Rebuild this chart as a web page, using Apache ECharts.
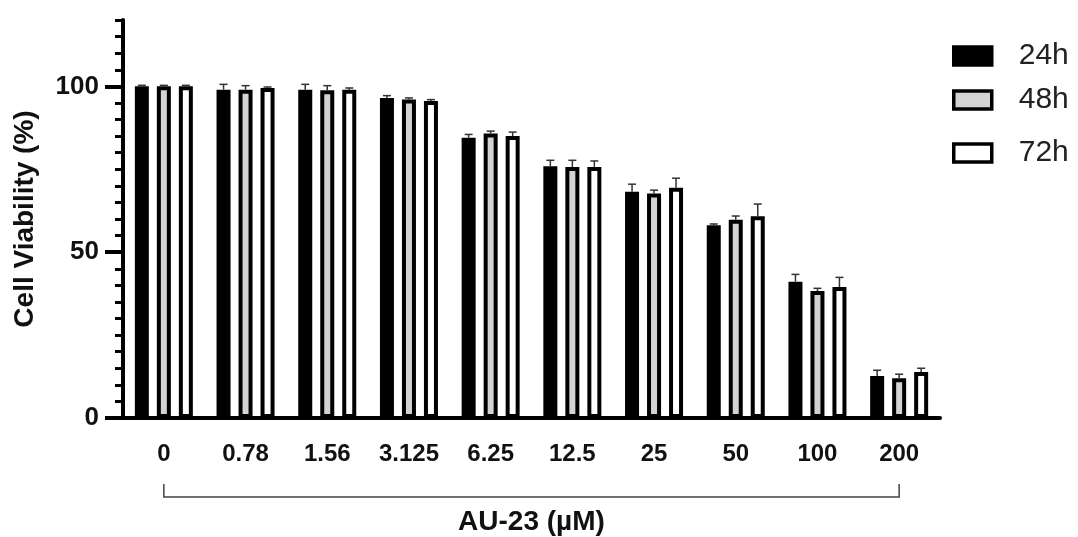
<!DOCTYPE html>
<html>
<head>
<meta charset="utf-8">
<script src="https://cdn.jsdelivr.net/npm/echarts@6/dist/echarts.min.js"></script>
<style>html,body{margin:0;padding:0;background:#fff}#c{width:1078px;height:537px}</style>
</head>
<body>
<div id="c"></div>
<script>
// ---- data ----
const categories = ['0', '0.78', '1.56', '3.125', '6.25', '12.5', '25', '50', '100', '200'];
const seriesNames = ['24h', '48h', '72h'];
const values24h = [100, 99.0, 99.0, 96.5, 84.5, 75.9, 68.2, 58.1, 41.1, 12.7];
const values48h = [100, 99.0, 98.8, 96.0, 85.8, 75.7, 67.7, 59.8, 38.3, 12.0];
const values72h = [100, 99.5, 99.0, 95.6, 85.0, 75.7, 69.4, 60.8, 39.5, 13.9];
const err24h = [0.3, 1.6, 1.6, 0.7, 1.0, 1.8, 2.3, 0.4, 2.2, 1.7];
const err48h = [0.3, 1.2, 1.4, 0.5, 0.7, 2.0, 1.0, 1.1, 0.8, 1.2];
const err72h = [0.3, 0.3, 0.5, 0.4, 1.2, 1.8, 2.9, 3.7, 2.9, 1.1];
const yMajorTicks = [0, 50, 100];
const yMin = 0, yMax = 120, yMinorInterval = 5;
const xTitle = 'AU-23 (µM)';
const yTitle = 'Cell Viability (%)';

// ---- style ----
const FONT = 'Liberation Sans, Arial, sans-serif';
const fills = ['#000000', '#d3d3d3', '#ffffff'];
const BAR_W = 14, BAR_BORDER = 4, BAR_GAP_PX = 8;
const PITCH = BAR_W + BAR_GAP_PX;
const offsets = [-PITCH, 0, PITCH];
const allValues = [values24h, values48h, values72h];
const allErr = [err24h, err48h, err72h];

const chart = echarts.init(document.getElementById('c'), null, {renderer: 'canvas'});

const barSeries = seriesNames.map((n, i) => ({
  name: n,
  type: 'bar',
  xAxisIndex: 0, yAxisIndex: 0,
  data: allValues[i],
  barWidth: BAR_W,
  barGap: (BAR_GAP_PX / BAR_W * 100) + '%',
  itemStyle: {color: fills[i], borderColor: '#000', borderWidth: BAR_BORDER},
  emphasis: {disabled: true},
  z: 2
}));

const errSeries = seriesNames.map((n, i) => ({
  name: n + ' err',
  type: 'custom',
  xAxisIndex: 0, yAxisIndex: 0,
  data: allValues[i].map((v, k) => [k, v, allErr[i][k]]),
  encode: {x: 0, y: 1},
  z: 3,
  silent: true,
  renderItem: function (params, api) {
    const c = api.value(0), v = api.value(1), e = api.value(2);
    const base = api.coord([c, v]);
    const top = api.coord([c, v + e]);
    const x = base[0] + offsets[i];
    const st = {stroke: '#333', lineWidth: 1.5};
    return {type: 'group', children: [
      {type: 'line', shape: {x1: x, y1: base[1], x2: x, y2: top[1]}, style: st},
      {type: 'line', shape: {x1: x - 4, y1: top[1], x2: x + 4, y2: top[1]}, style: st}
    ]};
  }
}));

const bracketSeries = {
  name: 'bracket',
  type: 'custom',
  xAxisIndex: 0, yAxisIndex: 0,
  data: [[0, yMin, categories.length - 1]],
  encode: {x: 0, y: 1},
  clip: false,
  silent: true,
  renderItem: function (params, api) {
    const p0 = api.coord([api.value(0), api.value(1)]);
    const p1 = api.coord([api.value(2), api.value(1)]);
    const yA = p0[1] + 66, yB = p0[1] + 79;
    return {type: 'polyline', shape: {points: [[p0[0], yA], [p0[0], yB], [p1[0], yB], [p1[0], yA]]},
      style: {stroke: '#444', lineWidth: 1.5, fill: null}};
  }
};

function legendAt(name, top) {
  return {
    data: [name], left: 952, top: top, orient: 'vertical', padding: 0,
    icon: 'rect', itemWidth: 38, itemHeight: 18,
    itemStyle: {borderWidth: 3.5, borderColor: '#000'},
    textStyle: {fontFamily: FONT, fontSize: 30, color: '#222', padding: [0, 0, 0, 22]},
    selectedMode: false
  };
}

chart.setOption({
  animation: false,
  backgroundColor: '#fff',
  grid: {left: 123, right: 138, top: 20, bottom: 119, containLabel: false, outerBoundsMode: 'none'},
  legend: [legendAt('24h', 41), legendAt('48h', 85), legendAt('72h', 138)],
  xAxis: [{
    type: 'category', data: categories,
    axisLine: {lineStyle: {color: '#000', width: 4}},
    axisTick: {alignWithLabel: true, length: 16, lineStyle: {color: '#000', width: 3}},
    axisLabel: {fontFamily: FONT, fontWeight: 'bold', fontSize: 24, color: '#111', margin: 24},
    name: xTitle, nameLocation: 'middle', nameGap: 90,
    nameTextStyle: {fontFamily: FONT, fontWeight: 'bold', fontSize: 28, color: '#111'}
  }],
  yAxis: [{
    type: 'value', position: 'left', min: yMin, max: yMax, interval: yMinorInterval,
    axisLine: {show: true, lineStyle: {color: '#000', width: 4}},
    axisTick: {show: true, length: 8, lineStyle: {color: '#000', width: 3}},
    axisLabel: {show: false},
    splitLine: {show: false}
  }, {
    type: 'value', position: 'left', min: yMin, max: yMax,
    axisLine: {show: false},
    axisTick: {show: true, customValues: yMajorTicks, length: 18, lineStyle: {color: '#000', width: 4}},
    axisLabel: {customValues: yMajorTicks, fontFamily: FONT, fontWeight: 'bold', fontSize: 26, color: '#111', margin: 24},
    splitLine: {show: false},
    name: yTitle, nameLocation: 'middle', nameGap: 84, nameRotate: 90,
    nameTextStyle: {fontFamily: FONT, fontWeight: 'bold', fontSize: 28, color: '#111'}
  }],
  series: [...barSeries, ...errSeries, bracketSeries]
});
</script>
</body>
</html>
